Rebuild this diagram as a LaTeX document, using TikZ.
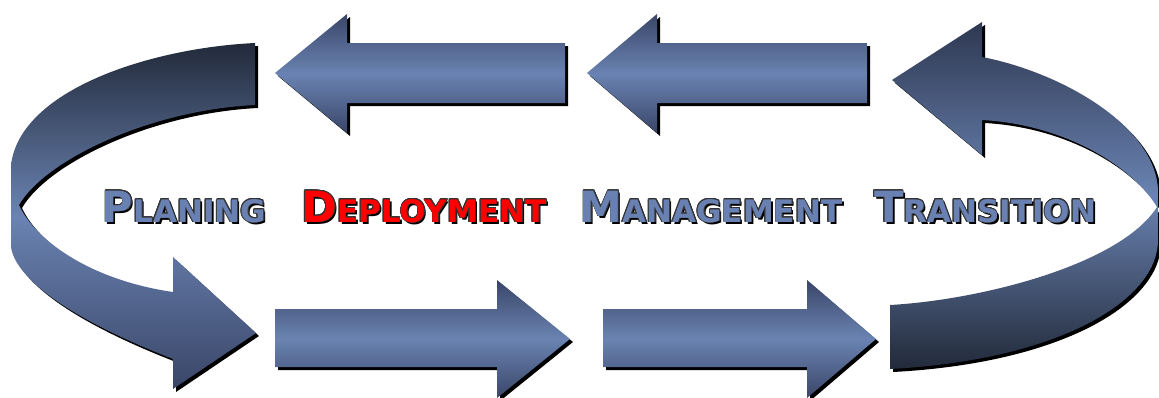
\documentclass[tikz,border=0pt]{standalone}
\usepackage{fontspec}
\usepackage{contour}
\newfontfamily\wordfont{DejaVu Sans}
\usetikzlibrary{shadows}
\contourlength{0.7pt}
\definecolor{arrowdark}{RGB}{34,42,58}
\definecolor{arrowmid}{RGB}{58,70,104}
\definecolor{arrowlight}{RGB}{106,131,178}
\definecolor{wordblue}{RGB}{104,128,178}
\definecolor{wordred}{RGB}{255,0,0}
\newcommand{\capword}[2]{{\fontsize{43}{43}\selectfont #1}{\fontsize{31}{31}\selectfont #2}}

\begin{document}
\begin{tikzpicture}[x=1pt,y=-1pt]
  \tikzstyle{shadowed}=[drop shadow={opacity=1,fill=black,shadow xshift=3pt,shadow yshift=-3pt}]
  \tikzstyle{straight}=[shadowed,top color=arrowmid,bottom color=arrowmid,middle color=arrowlight]
  \tikzstyle{word}=[anchor=base,inner sep=0pt,font=\wordfont\bfseries]
  \useasboundingbox (0,0) rectangle (1159,397);

  % upper row, pointing left
  \path[straight] (275,73) -- (347,14) -- (347,43) -- (565,43) -- (565,103)
    -- (347,103) -- (347,133) -- cycle;
  \path[straight] (587,73) -- (657,14) -- (657,43) -- (867,43) -- (867,103)
    -- (657,103) -- (657,133) -- cycle;

  % lower row, pointing right
  \path[straight] (570,339) -- (497,280) -- (497,309) -- (275,309) -- (275,367)
    -- (497,367) -- (497,398) -- cycle;
  \path[straight] (876,339) -- (807,280) -- (807,309) -- (603,309) -- (603,367)
    -- (807,367) -- (807,398) -- cycle;

  % left turn
  \path[shadowed,top color=arrowdark,bottom color=arrowmid,middle color=arrowlight]
    (255,43) .. controls (150,48) and (20,90) .. (11,165) -- (11,247)
    .. controls (15,275) and (60,315) .. (173,359) -- (173,389) -- (256,333)
    -- (173,257) -- (173,292) .. controls (90,280) and (35,240) .. (19,205)
    .. controls (45,160) and (150,110) .. (255,105) -- cycle;

  % right turn
  \path[shadowed,top color=arrowdark!50!arrowmid,bottom color=arrowdark,middle color=arrowlight]
    (892,80) -- (982,22) -- (982,57) .. controls (1060,72) and (1155,125) .. (1158,190)
    -- (1158,240) .. controls (1158,300) and (1060,360) .. (890,369) -- (890,305)
    .. controls (980,300) and (1120,265) .. (1157,207)
    .. controls (1135,170) and (1070,125) .. (982,120) -- (982,155) -- cycle;

  \node[word,text=black] (planing shadow) at (186,224) {\capword{P}{LANING}};
  \node[word,text=wordblue] (planing) at (184,222) {\contour{black!80}{\capword{P}{LANING}}};
  \node[word,text=black] (deployment shadow) at (426,224) {\capword{D}{EPLOYMENT}};
  \node[word,text=wordred] (deployment) at (424,222) {\contour{black!80}{\capword{D}{EPLOYMENT}}};
  \node[word,text=black] (management shadow) at (713,224) {\capword{M}{ANAGEMENT}};
  \node[word,text=wordblue] (management) at (711,222) {\contour{black!80}{\capword{M}{ANAGEMENT}}};
  \node[word,text=black] (transition shadow) at (987,224) {\capword{T}{RANSITION}};
  \node[word,text=wordblue] (transition) at (985,222) {\contour{black!80}{\capword{T}{RANSITION}}};
\end{tikzpicture}
\end{document}
